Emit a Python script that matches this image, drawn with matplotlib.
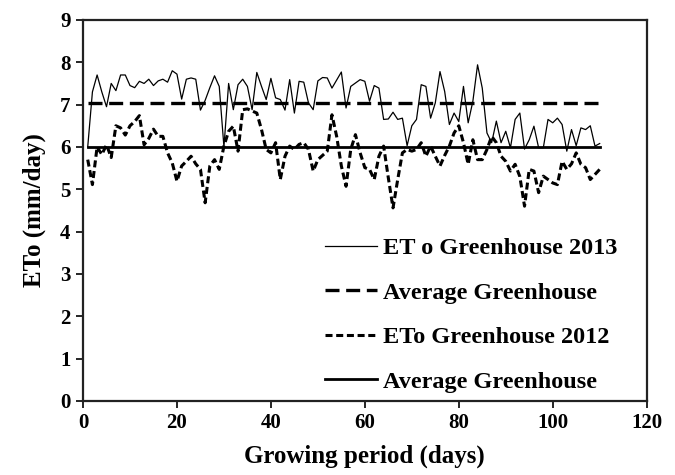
import matplotlib
matplotlib.use("Agg")
import matplotlib.pyplot as plt

days = list(range(1, 111))

eto_2013 = [6.0, 7.3, 7.7, 7.3, 6.95, 7.5, 7.33, 7.7, 7.7, 7.45,
            7.4, 7.55, 7.5, 7.6, 7.45, 7.56, 7.6, 7.53, 7.8, 7.72,
            7.13, 7.6, 7.63, 7.6, 6.87, 7.1, 7.4, 7.68, 7.43, 6.0,
            7.5, 6.88, 7.47, 7.6, 7.43, 6.88, 7.76, 7.43, 7.12, 7.62,
            7.16, 7.12, 6.87, 7.59, 6.8, 7.55, 7.53, 7.04, 6.88, 7.56,
            7.64, 7.63, 7.39, 7.58, 7.77, 6.92, 7.43, 7.51, 7.59, 7.55,
            7.08, 7.45, 7.39, 6.65, 6.66, 6.82, 6.65, 6.68, 6.03, 6.5,
            6.65, 7.47, 7.43, 6.68, 7.04, 7.78, 7.31, 6.53, 6.8, 6.6,
            7.43, 6.57, 7.08, 7.94, 7.39, 6.33, 6.1, 6.61, 6.1, 6.37,
            5.98, 6.65, 6.8, 5.95, 6.17, 6.49, 5.98, 5.98, 6.65, 6.57,
            6.68, 6.53, 5.9, 6.41, 6.03, 6.45, 6.41, 6.5, 6.02, 6.08]

eto_2012 = [5.7, 5.11, 6.0, 5.82, 6.05, 5.75, 6.5, 6.45, 6.28, 6.5,
            6.6, 6.74, 6.05, 6.2, 6.42, 6.25, 6.25, 5.86, 5.62, 5.19,
            5.55, 5.66, 5.78, 5.6, 5.47, 4.68, 5.55, 5.7, 5.47, 6.02,
            6.37, 6.49, 5.9, 6.88, 6.9, 6.85, 6.8, 6.41, 5.94, 5.86,
            6.1, 5.23, 5.78, 6.02, 5.94, 6.06, 6.1, 5.94, 5.43, 5.7,
            5.8, 5.9, 6.76, 6.25, 5.55, 5.07, 5.94, 6.29, 5.86, 5.51,
            5.47, 5.23, 5.78, 6.02, 5.27, 4.56, 5.23, 5.86, 5.94, 5.9,
            5.94, 6.1, 5.78, 6.02, 5.78, 5.55, 5.8, 6.02, 6.33, 6.5,
            6.1, 5.59, 6.17, 5.7, 5.7, 5.94, 6.25, 6.1, 5.78, 5.66,
            5.43, 5.59, 5.3, 4.6, 5.47, 5.43, 4.92, 5.31, 5.23, 5.15,
            5.11, 5.66, 5.47, 5.6, 5.86, 5.59, 5.51, 5.23, 5.35, 5.47]

avg_2013 = 7.04
avg_2012 = 5.99

labels = ["ET o Greenhouse 2013", "Average Greenhouse",
          "ETo Greenhouse 2012", "Average Greenhouse"]

plt.rcParams['font.family'] = ['Liberation Serif', 'DejaVu Serif']
plt.rcParams['font.weight'] = 'bold'

fig = plt.figure(figsize=(6.75, 4.75), dpi=100)
ax = fig.add_axes([0.123, 0.156, 0.835, 0.802])

ax.plot(days, eto_2013, color='black', lw=0.9, label=labels[0])
ax.plot(days, [avg_2013] * len(days), color='black', lw=2.4,
        dashes=(4.2, 2.0), label=labels[1])
ax.plot(days, eto_2012, color='black', lw=2.2, dashes=(2.3, 1.2),
        label=labels[2])
ax.plot(days, [avg_2012] * len(days), color='black', lw=2.0, label=labels[3])

ax.set_xlim(0, 120)
ax.set_ylim(0, 9)
ax.set_xticks(range(0, 121, 20))
ax.set_yticks(range(0, 10))
for s in ax.spines.values():
    s.set_linewidth(1.6)
    s.set_color('#222222')
ax.tick_params(direction='out', length=5, width=1.2, labelsize=15, pad=4)
for t in ax.get_xticklabels() + ax.get_yticklabels():
    t.set_fontweight('bold')

ax.set_xlabel('Growing period (days)', fontsize=18, fontweight='bold', labelpad=8)
ax.set_ylabel('ETo (mm/day)', fontsize=18, fontweight='bold', labelpad=10)

leg = ax.legend(loc='lower left', bbox_to_anchor=(0.429, 0.021), frameon=False,
                prop={'family': 'Liberation Serif', 'weight': 'bold', 'size': 17.5},
                handlelength=2.14, handletextpad=0.25, labelspacing=0.93,
                borderpad=0.0, borderaxespad=0.0)

fig.savefig('out.png', dpi=100)
